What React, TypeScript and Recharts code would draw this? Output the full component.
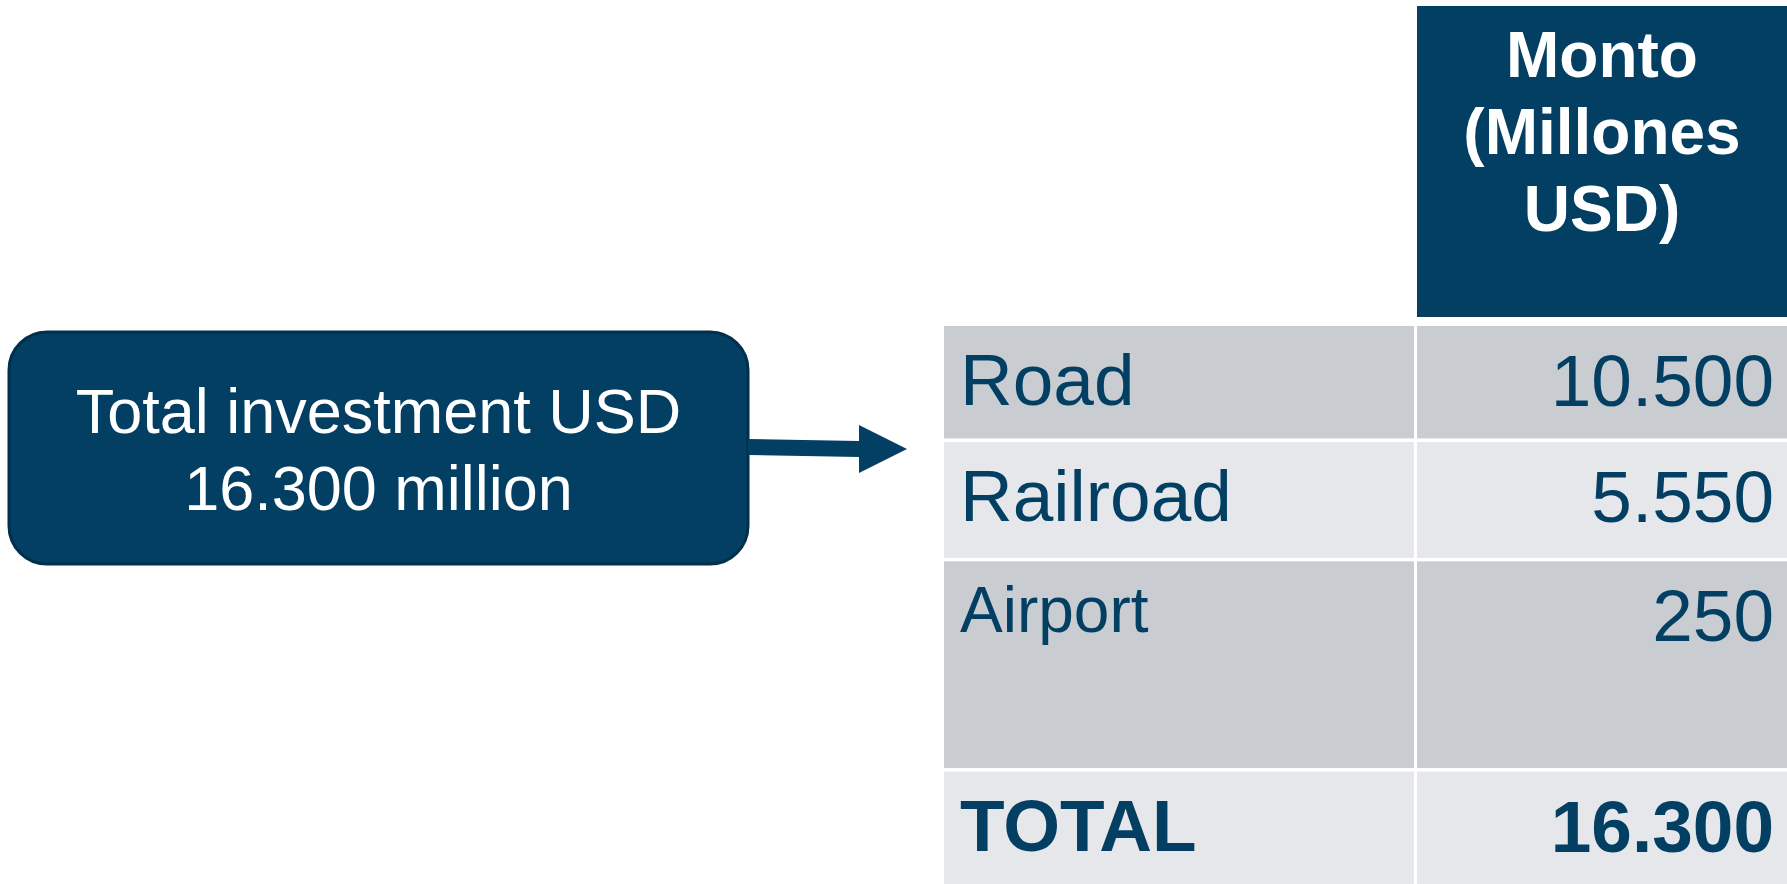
import React from 'react';
import { ComposedChart, Bar, XAxis, YAxis, Customized } from 'recharts';

// Table content
const categories = ['Road', 'Railroad', 'Airport', 'TOTAL'];
const amounts = [10500, 5550, 250, 16300];
const headerLines = ['Monto', '(Millones', 'USD)'];
const calloutLines = ['Total investment USD', '16.300 million'];

const chartData = categories.map((name, i) => ({ name, amount: amounts[i] }));

// Layout / styles
const WIDTH = 1787;
const HEIGHT = 884;
const TABLE_LEFT = 944;
const TABLE_TOP = 326;
const LABEL_COL_W = 470;
const COL_GAP = 3;
const ROW_GAP = 4;
const ROW_WEIGHTS = [1, 1.03, 1.81, 0.97];
const NAVY = '#033F63';
const NAVY_BORDER = '#022F4C';
const GRAY_DARK = '#C9CDD2';
const GRAY_LIGHT = '#E5E7EA';
const FONT = '"Liberation Sans", Arial, sans-serif';

const formatAmount = (v: number): string => String(v).replace(/\B(?=(\d{3})+(?!\d))/g, '.');

const RowCells = (props: any) => {
    const { x, y, width, height, index } = props;
    const totalW = ROW_WEIGHTS.reduce((a, b) => a + b, 0);
    const unit = (height * categories.length) / totalW;
    const plotTop = y - index * height;
    const before = ROW_WEIGHTS.slice(0, index).reduce((a, b) => a + b, 0);
    const top = plotTop + before * unit;
    const isTotal = index === categories.length - 1;
    // last row runs to the bottom edge
    const h = ROW_WEIGHTS[index] * unit - (isTotal ? 0 : ROW_GAP);
    const fill = index % 2 === 0 ? GRAY_DARK : GRAY_LIGHT;
    const isSmall = categories[index] === 'Airport';
    const valueX = x + LABEL_COL_W + COL_GAP;
    return (
        <g>
            <rect x={x} y={top} width={LABEL_COL_W} height={h} fill={fill} />
            <rect x={valueX} y={top} width={width - LABEL_COL_W - COL_GAP} height={h} fill={fill} />
            <text
                x={x + 16}
                y={top + (isSmall ? 71 : 79)}
                fill={NAVY}
                fontFamily={FONT}
                fontSize={isSmall ? 64 : 73}
                fontWeight={isTotal ? 700 : 400}
            >
                {categories[index]}
            </text>
            <text
                x={x + width - 13}
                y={top + 80}
                textAnchor="end"
                fill={NAVY}
                fontFamily={FONT}
                fontSize={73}
                fontWeight={isTotal ? 700 : 400}
            >
                {formatAmount(amounts[index])}
            </text>
        </g>
    );
};

const Decorations = () => {
    const headerX = TABLE_LEFT + LABEL_COL_W + COL_GAP;
    const headerW = WIDTH - headerX;
    const boxX = 9;
    const boxY = 332;
    const boxW = 739;
    const boxH = 232;
    const boxRight = boxX + boxW;
    const midY = 448;
    return (
        <g>
            {/* header cell */}
            <rect x={headerX} y={6} width={headerW} height={311} fill={NAVY} />
            {headerLines.map((line, i) => (
                <text
                    key={line}
                    x={headerX + headerW / 2}
                    y={77 + i * 77}
                    textAnchor="middle"
                    fill="#fff"
                    fontFamily={FONT}
                    fontSize={64}
                    fontWeight={700}
                >
                    {line}
                </text>
            ))}
            {/* callout box */}
            <rect x={boxX} y={boxY} width={boxW} height={boxH} rx={38} ry={38} fill={NAVY} stroke={NAVY_BORDER} strokeWidth={3} />
            {calloutLines.map((line, i) => (
                <text
                    key={line}
                    x={boxX + boxW / 2}
                    y={433 + i * 77}
                    textAnchor="middle"
                    fill="#fff"
                    fontFamily={FONT}
                    fontSize={63}
                >
                    {line}
                </text>
            ))}
            {/* arrow */}
            <polygon
                points={`${boxRight},${midY - 9} ${boxRight + 111},${midY - 7} ${boxRight + 111},${midY - 23} ${boxRight + 159},${midY + 1} ${boxRight + 111},${midY + 25} ${boxRight + 111},${midY + 9} ${boxRight},${midY + 7}`}
                fill={NAVY}
            />
        </g>
    );
};

const EmptyShape = () => <g />;

const App: React.FC = () => {
    return (
        <div style={{ position: 'fixed', left: 0, top: 0, width: WIDTH, height: HEIGHT, background: '#fff' }}>
            <ComposedChart
                width={WIDTH}
                height={HEIGHT}
                data={chartData}
                layout="vertical"
                margin={{ top: TABLE_TOP, right: 0, bottom: 0, left: TABLE_LEFT }}
                barCategoryGap={0}
            >
                <XAxis type="number" hide domain={[0, 'dataMax']} />
                <YAxis type="category" dataKey="name" hide />
                <Bar dataKey="amount" isAnimationActive={false} background={<RowCells />} shape={<EmptyShape />} />
                <Customized component={<Decorations />} />
            </ComposedChart>
        </div>
    );
};

export default App;
